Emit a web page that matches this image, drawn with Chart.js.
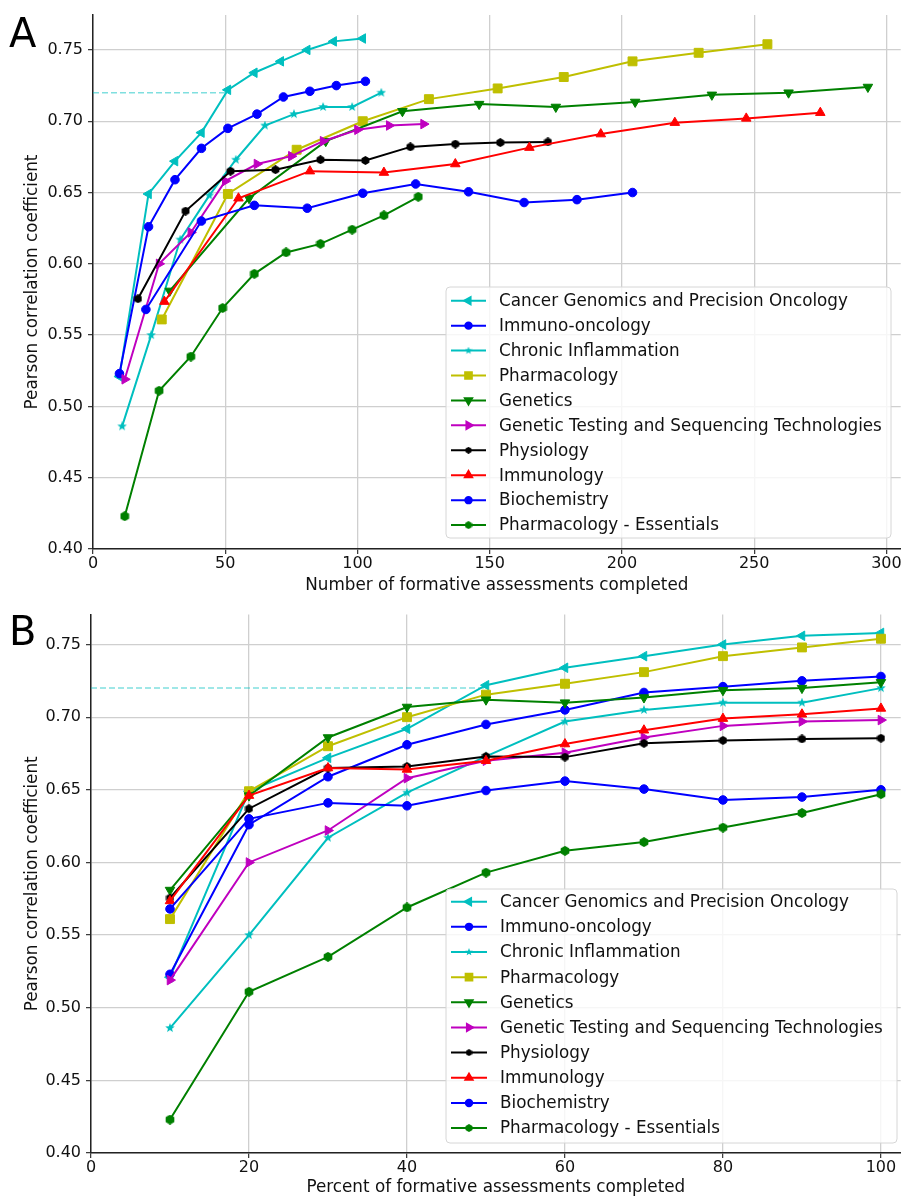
<!DOCTYPE html>
<html>
<head>
<meta charset="utf-8">
<script src="https://cdn.jsdelivr.net/npm/chart.js@4.4.0/dist/chart.umd.min.js"></script>
<style>
  body { margin: 0; background: #fff; width: 901px; height: 1200px; overflow: hidden; position: relative; font-family: "DejaVu Sans", sans-serif; }
  .panel { position: absolute; left: 0; }
  .tag { position: absolute; left: 9px; font-size: 40px; line-height: 1; color: #000; }
</style>
</head>
<body>
<div class="panel" style="top:0"><canvas id="chartA" width="908" height="600"></canvas></div>
<div class="panel" style="top:600px"><canvas id="chartB" width="908" height="600"></canvas></div>
<div class="tag" style="top:13px">A</div>
<div class="tag" style="top:611px">B</div>
<script>
// percent of formative assessments completed (panel B x values)
const percentDone = [10, 20, 30, 40, 50, 60, 70, 80, 90, 100];

const seriesNames = [
  'Cancer Genomics and Precision Oncology',
  'Immuno-oncology',
  'Chronic Inflammation',
  'Pharmacology',
  'Genetics',
  'Genetic Testing and Sequencing Technologies',
  'Physiology',
  'Immunology',
  'Biochemistry',
  'Pharmacology - Essentials'
];

// number of assessments completed (panel A x values) and Pearson r per course
const cancerCounts = [10, 21, 31, 41, 51, 61, 71, 81, 91, 102];
const cancerVals   = [0.521, 0.649, 0.672, 0.692, 0.722, 0.734, 0.742, 0.750, 0.756, 0.758];

const immunoOncCounts = [10, 21, 31, 41, 51, 62, 72, 82, 92, 103];
const immunoOncVals   = [0.523, 0.626, 0.659, 0.681, 0.695, 0.705, 0.717, 0.721, 0.725, 0.728];

const chronicCounts = [11, 22, 33, 44, 54, 65, 76, 87, 98, 109];
const chronicVals   = [0.486, 0.550, 0.617, 0.648, 0.673, 0.697, 0.705, 0.710, 0.710, 0.720];

const pharmCounts = [26, 51, 77, 102, 127, 153, 178, 204, 229, 255];
const pharmVals   = [0.561, 0.649, 0.680, 0.700, 0.7155, 0.723, 0.731, 0.742, 0.748, 0.754];

const geneticsCounts = [29, 59, 88, 117, 146, 175, 205, 234, 263, 293];
const geneticsVals   = [0.581, 0.646, 0.686, 0.707, 0.712, 0.710, 0.7135, 0.7185, 0.720, 0.724];

const genTestCounts = [12, 25, 37, 50, 62, 75, 87, 100, 112, 125];
const genTestVals   = [0.519, 0.600, 0.622, 0.658, 0.670, 0.6755, 0.686, 0.694, 0.697, 0.698];

const physioCounts = [17, 35, 52, 69, 86, 103, 120, 137, 154, 172];
const physioVals   = [0.5755, 0.637, 0.665, 0.666, 0.673, 0.6725, 0.682, 0.684, 0.685, 0.6855];

const immunologyCounts = [27, 55, 82, 110, 137, 165, 192, 220, 247, 275];
const immunologyVals   = [0.5735, 0.646, 0.665, 0.664, 0.670, 0.6815, 0.691, 0.699, 0.702, 0.706];

const biochemCounts = [20, 41, 61, 81, 102, 122, 142, 163, 183, 204];
const biochemVals   = [0.568, 0.630, 0.641, 0.639, 0.6495, 0.656, 0.6505, 0.643, 0.645, 0.650];

const essentialsCounts = [12, 25, 37, 49, 61, 73, 86, 98, 110, 123];
const essentialsVals   = [0.423, 0.511, 0.535, 0.569, 0.593, 0.608, 0.614, 0.624, 0.634, 0.647];

const targetR = 0.72;

const xTicksA = [0, 50, 100, 150, 200, 250, 300];
const xTicksB = [0, 20, 40, 60, 80, 100];
const yTicks = [0.40, 0.45, 0.50, 0.55, 0.60, 0.65, 0.70, 0.75];

const allCounts = [cancerCounts, immunoOncCounts, chronicCounts, pharmCounts, geneticsCounts,
  genTestCounts, physioCounts, immunologyCounts, biochemCounts, essentialsCounts];
const allVals = [cancerVals, immunoOncVals, chronicVals, pharmVals, geneticsVals,
  genTestVals, physioVals, immunologyVals, biochemVals, essentialsVals];

// matplotlib-like colours and markers
const looks = [
  { color: '#00bfbf', shape: 'triangle', rot: -90, r: 5.5 },
  { color: '#0000ff', shape: 'circle', r: 4.3 },
  { color: '#00bfbf', shape: 'star', size: 10 },
  { color: '#bfbf00', shape: 'rect', r: 6.3 },
  { color: '#008000', shape: 'triangle', rot: 180, r: 5.5 },
  { color: '#bf00bf', shape: 'triangle', rot: 90, r: 5.5 },
  { color: '#000000', shape: 'hex', size: 9 },
  { color: '#ff0000', shape: 'triangle', rot: 0, r: 5.5 },
  { color: '#0000ff', shape: 'circle', r: 4.3 },
  { color: '#008000', shape: 'hex', size: 10 }
];

// small canvas markers for shapes Chart.js doesn't have
function makeMarker(shape, color, size) {
  const c = document.createElement('canvas');
  c.width = size; c.height = size;
  const g = c.getContext('2d');
  const r = size / 2;
  g.fillStyle = color;
  g.beginPath();
  if (shape === 'star') {
    for (let i = 0; i < 10; i++) {
      const a = -Math.PI / 2 + i * Math.PI / 5;
      const rr = i % 2 === 0 ? r : r * 0.42;
      g.lineTo(r + rr * Math.cos(a), r + rr * Math.sin(a));
    }
  } else {
    for (let i = 0; i < 6; i++) {
      const a = -Math.PI / 2 + i * Math.PI / 3;
      g.lineTo(r + r * Math.cos(a), r + r * Math.sin(a));
    }
  }
  g.closePath();
  g.fill();
  return c;
}

function pointStyleOf(lk, scale) {
  if (lk.shape === 'star' || lk.shape === 'hex') {
    return makeMarker(lk.shape, lk.color, Math.round(lk.size * scale));
  }
  return lk.shape;
}

function buildDatasets(xLists) {
  const sets = seriesNames.map((name, i) => {
    const lk = looks[i];
    return {
      label: name,
      data: allVals[i].map((v, j) => ({ x: xLists[i][j], y: v })),
      showLine: true,
      borderColor: lk.color,
      backgroundColor: lk.color,
      borderWidth: 2,
      pointStyle: pointStyleOf(lk, 1),
      legendStyle: pointStyleOf(lk, 0.75),
      pointRotation: lk.rot || 0,
      pointRadius: lk.r || 5,
      pointBorderWidth: 1,
      pointBackgroundColor: lk.color,
      pointBorderColor: lk.color,
      inLegend: true,
      order: seriesNames.length - i
    };
  });
  return sets;
}

const boxLegend = {
  id: 'boxLegend',
  afterDatasetsDraw(chart, args, o) {
    const ctx = chart.ctx;
    ctx.save();
    const rad = 4;
    ctx.beginPath();
    ctx.moveTo(o.left + rad, o.top);
    ctx.arcTo(o.right, o.top, o.right, o.bottom, rad);
    ctx.arcTo(o.right, o.bottom, o.left, o.bottom, rad);
    ctx.arcTo(o.left, o.bottom, o.left, o.top, rad);
    ctx.arcTo(o.left, o.top, o.right, o.top, rad);
    ctx.closePath();
    ctx.fillStyle = 'rgba(255,255,255,0.8)';
    ctx.fill();
    ctx.strokeStyle = '#d6d6d6';
    ctx.lineWidth = 1;
    ctx.stroke();

    let k = 0;
    chart.data.datasets.forEach(ds => {
      if (!ds.inLegend) return;
      const y = o.rowTop + k * o.rowGap;
      const mx = (o.lineX0 + o.lineX1) / 2;
      ctx.strokeStyle = ds.borderColor;
      ctx.lineWidth = 2;
      ctx.setLineDash([]);
      ctx.beginPath();
      ctx.moveTo(o.lineX0, y);
      ctx.lineTo(o.lineX1, y);
      ctx.stroke();
      ctx.fillStyle = ds.borderColor;
      const st = ds.legendStyle;
      if (typeof st === 'object') {
        ctx.drawImage(st, mx - st.width / 2, y - st.height / 2);
      } else {
        Chart.helpers.drawPoint(ctx, {
          pointStyle: st, rotation: ds.pointRotation,
          radius: ds.pointRadius * 0.75, borderWidth: 1
        }, mx, y);
      }
      ctx.fillStyle = '#111';
      ctx.font = '16.8px "DejaVu Sans"';
      ctx.textBaseline = 'middle';
      ctx.textAlign = 'left';
      ctx.fillText(ds.label, o.textX, y + 1);
      k++;
    });
    ctx.restore();
  }
};

const tickFont = { family: 'DejaVu Sans', size: 16 };
const titleFont = { family: 'DejaVu Sans', size: 16.8 };

function makePanel(id, xLists, refEndX, cfg) {
  const datasets = buildDatasets(xLists);
  datasets.push({
    label: 'target',
    data: [{ x: 0, y: targetR }, { x: refEndX, y: targetR }],
    showLine: true,
    borderColor: 'rgba(0,191,191,0.5)',
    borderWidth: 1.5,
    borderDash: [6, 3],
    pointRadius: 0,
    order: 100
  });
  return new Chart(document.getElementById(id), {
    type: 'scatter',
    data: { datasets: datasets },
    plugins: [boxLegend],
    options: {
      responsive: false,
      animation: false,
      devicePixelRatio: 1,
      layout: { padding: { top: cfg.padTop, right: 0, left: 0, bottom: 0 } },
      plugins: {
        legend: { display: false },
        tooltip: { enabled: false },
        boxLegend: cfg.legend
      },
      scales: {
        x: {
          type: 'linear',
          min: 0,
          max: cfg.xMax,
          afterBuildTicks: s => { s.ticks = cfg.xTicks.map(v => ({ value: v })); },
          afterFit: s => { s.height = cfg.xAxisH; s.paddingLeft = 0; s.paddingRight = 0; },
          ticks: { font: tickFont, color: '#111', padding: 0, maxRotation: 0, autoSkip: false },
          grid: { color: '#cfcfcf', lineWidth: 1.3, tickColor: '#333', tickLength: 5, tickWidth: 1.2 },
          border: { display: true, color: '#222', width: 1.5 },
          title: { display: true, text: cfg.xTitle, font: titleFont, color: '#111',
                   padding: { top: 0, bottom: cfg.xTitlePad } }
        },
        y: {
          min: 0.40,
          max: cfg.yMax,
          afterBuildTicks: s => { s.ticks = yTicks.map(v => ({ value: v })); },
          afterFit: s => { s.width = cfg.yAxisW; },
          ticks: { font: tickFont, color: '#111', padding: 5, callback: v => v.toFixed(2) },
          grid: { color: '#cfcfcf', lineWidth: 1.3, tickColor: '#333', tickLength: 5, tickWidth: 1.2 },
          border: { display: true, color: '#222', width: 1.5 },
          title: { display: true, text: 'Pearson correlation coefficient', font: titleFont, color: '#111',
                   padding: { top: 23, bottom: 0 } }
        }
      }
    }
  });
}

makePanel('chartA', allCounts, cancerCounts[4], {
  padTop: 15, xMax: 305.4, xTicks: xTicksA, xAxisH: 51, yAxisW: 93, yMax: 0.7745,
  xTitle: 'Number of formative assessments completed', xTitlePad: 4,
  legend: { left: 446, top: 287, right: 891, bottom: 538, rowTop: 300.7, rowGap: 24.93,
            lineX0: 451, lineX1: 486, textX: 499 }
});

makePanel('chartB', allCounts.map(() => percentDone), percentDone[4], {
  padTop: 13, xMax: 102.5, xTicks: xTicksB, xAxisH: 47, yAxisW: 91, yMax: 0.7706,
  xTitle: 'Percent of formative assessments completed', xTitlePad: 2,
  legend: { left: 446, top: 289, right: 897, bottom: 543, rowTop: 301.7, rowGap: 25.15,
            lineX0: 451, lineX1: 487, textX: 500 }
});
</script>
</body>
</html>
